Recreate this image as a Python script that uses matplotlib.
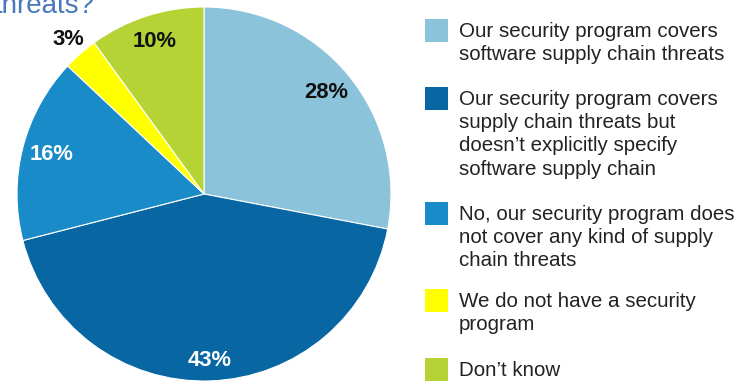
import numpy as np
import matplotlib.pyplot as plt

# survey answers, clockwise from 12 o'clock
answers = [
    "Our security program covers\nsoftware supply chain threats",
    "Our security program covers\nsupply chain threats but\ndoesn\u2019t explicitly specify\nsoftware supply chain",
    "No, our security program does\nnot cover any kind of supply\nchain threats",
    "We do not have a security\nprogram",
    "Don\u2019t know",
]
shares = [28, 43, 16, 3, 10]
colors = ["#8bc3da", "#0866a3", "#1a8bc9", "#ffff00", "#b5d334"]
label_colors = ["#111111", "white", "white", "#111111", "#111111"]
label_dist = [0.85, 0.89, 0.84, 1.10, 0.86]

plt.rcParams["font.family"] = ["Liberation Sans", "DejaVu Sans"]

W, H = 742, 383
fig = plt.figure(figsize=(W / 100, H / 100), dpi=100)
ax = fig.add_axes([0, 0, 1, 1])

cx, cy, r = 204, H - 194, 187
wedges, _ = ax.pie(shares, colors=colors, startangle=90, counterclock=False,
                   center=(cx, cy), radius=r,
                   wedgeprops=dict(edgecolor="white", linewidth=0.8))
ax.set_xlim(0, W)
ax.set_ylim(0, H)
ax.set_aspect("equal")
ax.axis("off")

for w, v, c, d in zip(wedges, shares, label_colors, label_dist):
    t = np.deg2rad((w.theta1 + w.theta2) / 2)
    ax.text(cx + d * r * np.cos(t), cy + d * r * np.sin(t), f"{v}%",
            ha="center", va="center", fontsize=15.8, fontweight="bold", color=c)

# clipped tail of the question heading
ax.text(-5, H - 13, "threats?", fontsize=20, color="#4a78bf",
        ha="left", va="baseline")

# legend drawn by hand: swatch + one text per wrapped line
box_tops = [19, 87, 202, 289, 358]
for top, c, txt in zip(box_tops, colors, answers):
    ax.add_patch(plt.Rectangle((425, H - top - 23), 23, 23, color=c, lw=0))
    for i, line in enumerate(txt.split("\n")):
        ax.text(459, H - top - 18 - 23.2 * i, line, fontsize=14.8,
                color="#222222", ha="left", va="baseline")

fig.savefig("out.png", dpi=100)
